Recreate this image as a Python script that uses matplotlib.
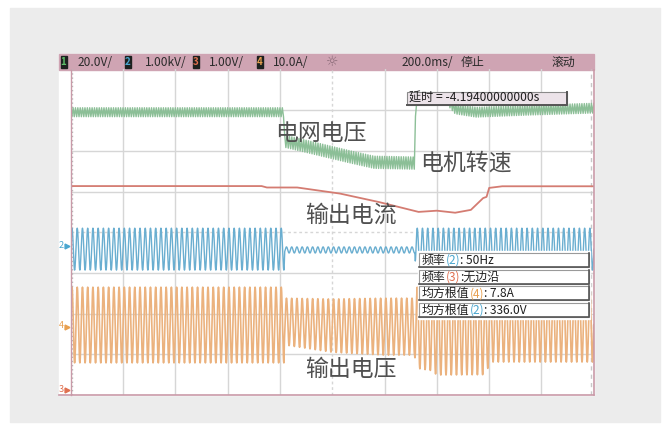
import numpy as np
import matplotlib
matplotlib.use("Agg")
import matplotlib.pyplot as plt
from matplotlib.patches import Rectangle

plt.rcParams["font.family"] = ["Noto Sans CJK SC", "DejaVu Sans"]

# scope setup: 200 ms/div, 10 x 8 divisions
T_DIV = 0.2
N_XDIV = 10
N_YDIV = 8
MAINS_HZ = 50      # ch2 / ch4 carrier
RIPPLE_HZ = 110    # ch1 ripple

header_ch = ["1", "2", "3", "4"]
header_scale = ["20.0V/", "1.00kV/", "1.00V/", "10.0A/"]
header_right = ["200.0ms/", "停止", "滚动"]

# ch1 (green) band, in divisions
green_t = [0.0, 0.815, 0.817, 1.07, 1.16, 1.315, 1.320, 1.44, 1.47, 1.55, 1.75, 2.0]
green_mid = [6.95, 6.95, 6.24, 5.85, 5.72, 5.70, 7.30, 7.25, 7.03, 6.95, 7.00, 7.05]
green_half = [0.11, 0.11, 0.15, 0.15, 0.15, 0.15, 0.12, 0.12, 0.12, 0.12, 0.12, 0.12]

# ch3 (red)
red_t = [0.0, 0.73, 0.75, 0.866, 1.03, 1.18, 1.33, 1.40, 1.47, 1.53, 1.577, 1.59, 1.60, 1.65, 2.0]
red_v = [5.135, 5.135, 5.10, 5.10, 4.95, 4.74, 4.50, 4.53, 4.48, 4.55, 4.84, 4.87, 5.09, 5.13, 5.13]

# ch2 (blue) envelope
blue_t = [0.0, 0.816, 0.818, 1.316, 1.318, 2.0]
blue_top = [4.10, 4.10, 3.64, 3.64, 4.10, 4.10]
blue_bot = [3.07, 3.07, 3.49, 3.49, 3.07, 3.07]

# ch4 (orange) envelope
orange_t = [0.0, 0.815, 0.817, 1.0, 1.20, 1.315, 1.318, 1.38, 1.40, 1.59, 1.60, 2.0]
orange_top = [2.65, 2.65, 2.38, 2.36, 2.38, 2.38, 2.65, 2.65, 2.65, 2.65, 2.65, 2.65]
orange_bot = [0.79, 0.79, 1.23, 1.05, 0.98, 0.98, 0.66, 0.60, 0.49, 0.50, 0.81, 0.81]

labels = ["电网电压", "电机转速", "输出电流", "输出电压"]
delay_text = "延时 = -4.19400000000s"
meas_names = ["频率", "频率", "均方根值", "均方根值"]
meas_ch = ["2", "3", "4", "2"]
meas_vals = [": 50Hz", ":无边沿", ": 7.8A", ": 336.0V"]

C_GREEN = "#8cbf97"
C_RED = "#d47c72"
C_BLUE = "#6aaed0"
C_ORANGE = "#ebb27e"
ch_color = {"1": "#5fbf6a", "2": "#4aa6cf", "3": "#e07050", "4": "#e8a050"}
PINK = "#cfa4b3"

W, H = 672, 430
fig = plt.figure(figsize=(W / 100, H / 100), dpi=100, facecolor="white")


def px_axes(z):
    a = fig.add_axes([0, 0, 1, 1], zorder=z)
    a.set_xlim(0, W)
    a.set_ylim(H, 0)
    a.axis("off")
    a.patch.set_alpha(0)
    return a


bg = px_axes(0)
bg.add_patch(Rectangle((10, 8), 650, 414, color="#ececec"))
bg.add_patch(Rectangle((59, 54), 535, 341, color="white"))
bg.add_patch(Rectangle((59, 54), 535, 15.5, color=PINK))

# scope screen
x0, x1, y0, y1 = 70.7, 593.8, 69.5, 395
ax = fig.add_axes([x0 / W, 1 - y1 / H, (x1 - x0) / W, (y1 - y0) / H], zorder=1)
ax.set_xlim(0, T_DIV * N_XDIV)
ax.set_ylim(0, N_YDIV)
ax.axis("off")
ax.patch.set_alpha(0)

for i in range(1, N_XDIV):
    ls = (0, (2, 2)) if i == N_XDIV // 2 else "-"
    ax.axvline(i * T_DIV, color="#d6d6d6", lw=1.0, ls=ls, zorder=1)
for j in range(1, N_YDIV):
    ls = (0, (2, 2)) if j == N_YDIV // 2 else "-"
    ax.axhline(j, color="#d6d6d6", lw=1.0, ls=ls, zorder=1)
ax.axvline(0.004, color="#b8b8b8", lw=1.0, ls=(0, (1, 2)), zorder=1)
ax.axvline(T_DIV * N_XDIV - 0.012, color="#c8c8c8", lw=1.0, ls=(0, (3, 3)), zorder=1)


def carrier(t_keys, top_keys, bot_keys, freq, per_cycle=24):
    t = np.linspace(0, T_DIV * N_XDIV, int(freq * T_DIV * N_XDIV * per_cycle) + 1)
    top = np.interp(t, t_keys, top_keys)
    bot = np.interp(t, t_keys, bot_keys)
    return t, bot + (top - bot) * (0.5 + 0.5 * np.sin(2 * np.pi * freq * t))


# green ripple band drawn as zigzag
n = int(RIPPLE_HZ * T_DIV * N_XDIV * 2) + 1
tg = np.linspace(0, T_DIV * N_XDIV, n)
sign = np.where(np.arange(n) % 2 == 0, 1.0, -1.0)
yg = np.interp(tg, green_t, green_mid) + sign * np.interp(tg, green_t, green_half)
ax.plot(tg, yg, color=C_GREEN, lw=1.0, zorder=3)

ax.plot(red_t, red_v, color=C_RED, lw=1.3, zorder=3)

tb, yb = carrier(blue_t, blue_top, blue_bot, MAINS_HZ)
ax.plot(tb, yb, color=C_BLUE, lw=1.0, zorder=3)

to, yo = carrier(orange_t, orange_top, orange_bot, MAINS_HZ)
ax.plot(to, yo, color=C_ORANGE, lw=1.2, zorder=3)

# overlay: borders, header text, readouts, labels
fg = px_axes(2)
fg.plot([x0, x0], [y0, y1], color="#c99aa8", lw=1.0)
fg.plot([59, 594], [395, 395], color="#c99aa8", lw=1.2)
fg.plot([593.5, 593.5], [y0, 395], color="#c99aa8", lw=1.2)

box_x = [60.5, 125, 193, 257]
text_x = [78, 145, 209, 273]
for bx, tx, ch, sc in zip(box_x, text_x, header_ch, header_scale):
    fg.add_patch(Rectangle((bx, 55.5), 6, 12.5, color="#1d211f"))
    fg.text(bx + 3, 62, ch, color=ch_color[ch], fontsize=7, ha="center", va="center",
            fontweight="bold")
    fg.text(tx, 62, sc, color="#2b2b2b", fontsize=8.6, ha="left", va="center")
fg.text(332, 61.5, "☼", color="#8a6a78", fontsize=10, ha="center", va="center",
        family="DejaVu Sans")
for tx, s in zip([402, 461, 552], header_right):
    fg.text(tx, 62, s, color="#2b2b2b", fontsize=8.6, ha="left", va="center")

# channel ground markers
for ch, yy in [("2", 245), ("4", 326), ("3", 389)]:
    fg.text(61.5, yy, ch, color=ch_color[ch], fontsize=6.5, ha="center", va="center")
    fg.plot([66.5], [yy + 1], marker=">", ms=3.5, color=ch_color[ch])

# delay readout
fg.add_patch(Rectangle((407, 92), 160, 13, facecolor="#ece3e9", edgecolor="#8a8a8a", lw=0.8))
fg.plot([567, 567, 407], [92, 105, 105], color="#555555", lw=1.4)
fg.text(409, 98.5, delay_text, color="#1e1e1e", fontsize=8.7, ha="left", va="center")

# measurement readouts
fg.add_patch(Rectangle((418, 251), 172, 68, color="white"))
rend = fig.canvas.get_renderer()
inv = fg.transData.inverted()
for k, (nm, ch, val) in enumerate(zip(meas_names, meas_ch, meas_vals)):
    top = 253 + k * 16.6
    fg.add_patch(Rectangle((419, top), 170, 14, facecolor="white", edgecolor="#9a9a9a", lw=0.8))
    fg.plot([589, 589, 419], [top, top + 14, top + 14], color="#555555", lw=1.2)
    x = 422
    for s, c in [(nm, "#1e1e1e"), ("(" + ch + ")", ch_color[ch]), (val, "#1e1e1e")]:
        t = fg.text(x, top + 7.5, s, color=c, fontsize=8.6, ha="left", va="center")
        bb = t.get_window_extent(rend)
        x = inv.transform((bb.x1, bb.y0))[0]

# big annotation labels
for s, (lx, ly) in zip(labels, [(275, 133), (420, 163), (305, 215), (305, 369)]):
    fg.text(lx, ly, s, color="#505050", fontsize=16.5, ha="left", va="center")

fig.savefig("out.png", dpi=100)
